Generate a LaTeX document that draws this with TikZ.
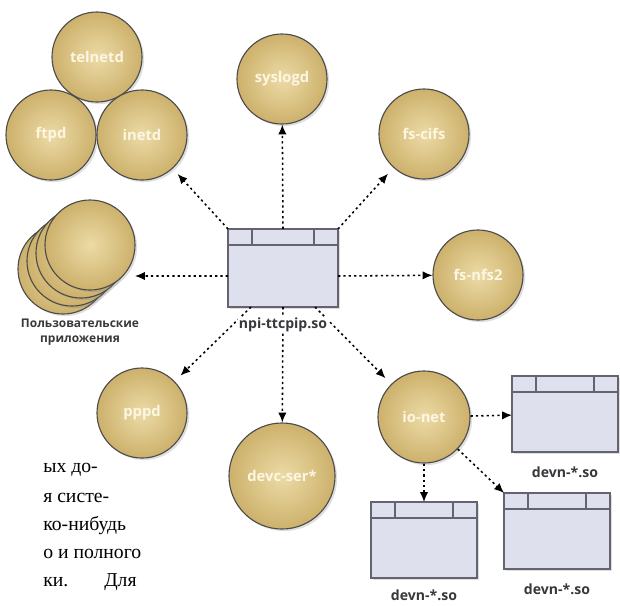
\documentclass[tikz,border=0pt]{standalone}
\usepackage{fontspec}
\setmainfont{Liberation Serif}
\setsansfont{Open Sans}
\usetikzlibrary{arrows.meta,shadows}
\definecolor{goldlight}{RGB}{236,219,166}
\definecolor{golddark}{RGB}{205,177,108}
\definecolor{boxfill}{RGB}{222,224,238}
\definecolor{boxedge}{RGB}{100,100,112}
\definecolor{labelcream}{RGB}{252,246,226}
\definecolor{labelgray}{RGB}{55,55,60}
\tikzstyle{daemon}=[circle, draw=black!70, line width=0.8pt, inner color=goldlight, outer color=golddark, minimum size=2.25cm, inner sep=0pt, text=labelcream, font=\sffamily\bfseries\fontsize{10.5}{12}\selectfont, drop shadow={shadow xshift=1.5pt, shadow yshift=-1.5pt, opacity=0.25}]
\tikzstyle{solib}=[rectangle, draw=boxedge, fill=boxfill, line width=1.2pt, outer sep=0pt, minimum width=2.65cm, minimum height=1.9cm, drop shadow={shadow xshift=1.5pt, shadow yshift=-1.5pt, opacity=0.25}]
\tikzstyle{sotext}=[text=labelgray, font=\sffamily\bfseries\fontsize{10}{11}\selectfont, inner sep=1pt]
\tikzstyle{link}=[dash pattern=on 1.6pt off 2.2pt, line width=1.1pt, -{Latex[length=7pt,width=6pt]}]
\tikzstyle{bodytext}=[font=\fontsize{14}{19.5}\selectfont, inner sep=0pt, anchor=west]

\begin{document}
\begin{tikzpicture}[x=0.025cm, y=-0.025cm]
    \useasboundingbox (0,0) rectangle (620,606);
    % daemons
    \node[daemon] (telnetd) at (97, 57) {telnetd};
    \node[daemon] (ftpd)    at (51, 135) {ftpd};
    \node[daemon] (inetd)   at (142, 135) {inetd};
    \node[daemon] (syslogd) at (282, 79) {syslogd};
    \node[daemon] (fscifs)  at (424, 134) {fs-cifs};
    \node[daemon] (fsnfs)   at (478, 275) {fs-nfs2};
    \node[daemon] (pppd)    at (142, 413) {pppd};
    \node[daemon, minimum size=2.65cm] (devcser) at (282, 476) {devc-ser*};
    \node[daemon, minimum size=2.3cm] (ionet) at (424, 417) {io-net};
    % user applications
    \foreach \i/\x/\y in {1/63/269, 2/72/261, 3/81/253, 4/90/245}
        \node[daemon] (apps\i) at (\x, \y) {};
    \node[sotext, align=center, font=\sffamily\bfseries\fontsize{8.5}{11}\selectfont] (appslabel) at (80, 332) {Пользовательские\\приложения};
    % shared objects
    \node[solib, minimum width=2.75cm, minimum height=1.95cm] (npi) at (283, 268) {};
    \node[solib] (devA) at (565, 414) {};
    \node[solib] (devB) at (557, 531) {};
    \node[solib] (devC) at (424, 540) {};
    \foreach \b in {npi, devA, devB, devC}
        \draw[boxedge, line width=1.2pt]
            ([yshift=-0.4cm]\b.north west) -- ([yshift=-0.4cm]\b.north east)
            ([xshift=0.6cm]\b.north west) -- ([xshift=0.6cm, yshift=-0.4cm]\b.north west)
            ([xshift=-0.6cm]\b.north east) -- ([xshift=-0.6cm, yshift=-0.4cm]\b.north east);
    % connectors
    \coordinate (appstip) at (135, 276);
    \draw[link, shorten >=0.18cm] (npi.north west) -- (inetd);
    \draw[link] (npi.north) -- (syslogd);
    \draw[link, shorten >=0.2cm] (npi.north east) -- (fscifs);
    \draw[link] ([yshift=-0.2cm]npi.east) -- (fsnfs);
    \draw[link] ([yshift=-0.2cm]npi.west) -- (appstip);
    \draw[link, shorten >=0.2cm] ([xshift=-0.8cm]npi.south) -- (pppd);
    \draw[link] (npi.south) -- (devcser);
    \draw[link, shorten >=0.2cm] ([xshift=0.8cm]npi.south) -- (ionet);
    \draw[link] (ionet) -- (devA);
    \draw[link] (ionet) -- (devB.north west);
    \draw[link] (ionet) -- (devC);
    % labels
    \node[sotext, fill=white] (npilabel) at ([yshift=-0.45cm]npi.south) {npi-ttcpip.so};
    \node[sotext] (devAlabel) at ([yshift=-0.5cm]devA.south) {devn-*.so};
    \node[sotext] (devBlabel) at ([yshift=-0.5cm]devB.south) {devn-*.so};
    \node[sotext] (devClabel) at ([yshift=-0.42cm]devC.south) {devn-*.so};
    % running text
    \foreach \words [count=\i] in {ых до-, я систе-, ко-нибудь, о и полного, {ки.\hspace{0.9cm}Для}}
        \node[bodytext] (txt\i) at (43, 442+28*\i) {\words};
\end{tikzpicture}
\end{document}
